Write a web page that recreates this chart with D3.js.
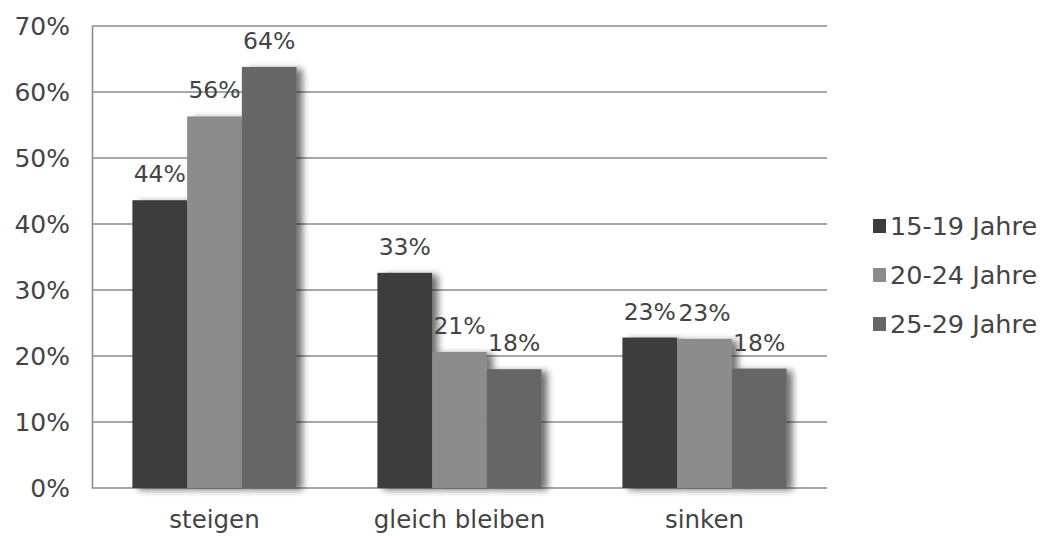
<!DOCTYPE html>
<html><head><meta charset="utf-8">
<script src="https://cdn.jsdelivr.net/npm/d3@7"></script>
<style>body{margin:0;background:#fff}svg{display:block}text{font-family:"DejaVu Sans",Verdana,sans-serif;fill:#444}</style>
</head><body>
<svg id="c" width="1042" height="536"></svg>
<script>
const categories = ["steigen", "gleich bleiben", "sinken"];
const seriesNames = ["15-19 Jahre", "20-24 Jahre", "25-29 Jahre"];
const values15_19 = [0.436, 0.326, 0.228];
const values20_24 = [0.563, 0.206, 0.226];
const values25_29 = [0.638, 0.180, 0.181];
const yTicks = [0, 0.1, 0.2, 0.3, 0.4, 0.5, 0.6, 0.7];
const colors = ["#3c3c3c", "#8c8c8c", "#666666"];

const seriesValues = [values15_19, values20_24, values25_29];
const svg = d3.select("#c");
const mLeft = 92, mRight = 827, mTop = 26, mBottom = 488;

const defs = svg.append("defs");
const f = defs.append("filter").attr("id","sh").attr("x","-20%").attr("y","-10%").attr("width","160%").attr("height","130%");
f.append("feGaussianBlur").attr("in","SourceAlpha").attr("stdDeviation",3.5).attr("result","b");
f.append("feOffset").attr("in","b").attr("dx",6).attr("dy",2).attr("result","o");
f.append("feComponentTransfer").attr("in","o").attr("result","o2").append("feFuncA").attr("type","linear").attr("slope",0.55);
const mg = f.append("feMerge"); mg.append("feMergeNode").attr("in","o2"); mg.append("feMergeNode").attr("in","SourceGraphic");

const x0 = d3.scaleBand().domain(categories).range([mLeft, mRight]).paddingInner(0.33).paddingOuter(0.165);
const x1 = d3.scaleBand().domain(d3.range(seriesNames.length)).range([0, x0.bandwidth()]);
const y = d3.scaleLinear().domain([0, 0.7]).range([mBottom, mTop]);
const fmt = d3.format(".0%");

// gridlines
svg.append("g").selectAll("line").data(yTicks).join("line")
  .attr("x1", mLeft).attr("x2", mRight).attr("y1", d=>y(d)).attr("y2", d=>y(d))
  .attr("stroke", "#8a8a8a").attr("stroke-width", 1.6);

// y axis
const ya = svg.append("g").attr("transform",`translate(${mLeft},0)`)
  .call(d3.axisLeft(y).tickValues(yTicks).tickFormat(fmt).tickSize(0).tickPadding(22));
ya.select(".domain").attr("stroke","#8a8a8a").attr("stroke-width",1.6);
ya.selectAll("text").style("font-size","25px").attr("fill","#444");

// bars
const groups = svg.append("g").selectAll("g").data(categories).join("g")
  .attr("transform", d=>`translate(${x0(d)},0)`);
groups.selectAll("rect").data((c,ci)=>seriesValues.map((s,si)=>({si, v:s[ci]}))).join("rect")
  .attr("x", d=>x1(d.si)).attr("width", x1.bandwidth())
  .attr("y", d=>y(d.v)).attr("height", d=>mBottom - y(d.v))
  .attr("fill", d=>colors[d.si]).attr("filter","url(#sh)");
groups.selectAll("text").data((c,ci)=>seriesValues.map((s,si)=>({si, v:s[ci]}))).join("text")
  .attr("x", d=>x1(d.si)+x1.bandwidth()/2).attr("y", d=>y(d.v)-18)
  .attr("text-anchor","middle").style("font-size","23.5px").text(d=>fmt(d.v));

// x axis labels
const xa = svg.append("g").attr("transform",`translate(0,${mBottom})`)
  .call(d3.axisBottom(x0).tickSize(0).tickPadding(23));
xa.select(".domain").remove();
xa.selectAll("text").style("font-size","24.5px").attr("fill","#444");

// legend
const lg = svg.append("g").selectAll("g").data(seriesNames).join("g")
  .attr("transform",(d,i)=>`translate(873,${226 + i*49})`);
lg.append("rect").attr("x",0).attr("y",-7).attr("width",13).attr("height",14).attr("fill",(d,i)=>colors[i]);
lg.append("text").attr("x",17).attr("dy","0.36em").style("font-size","25.5px").text(d=>d);
</script>
</body></html>
